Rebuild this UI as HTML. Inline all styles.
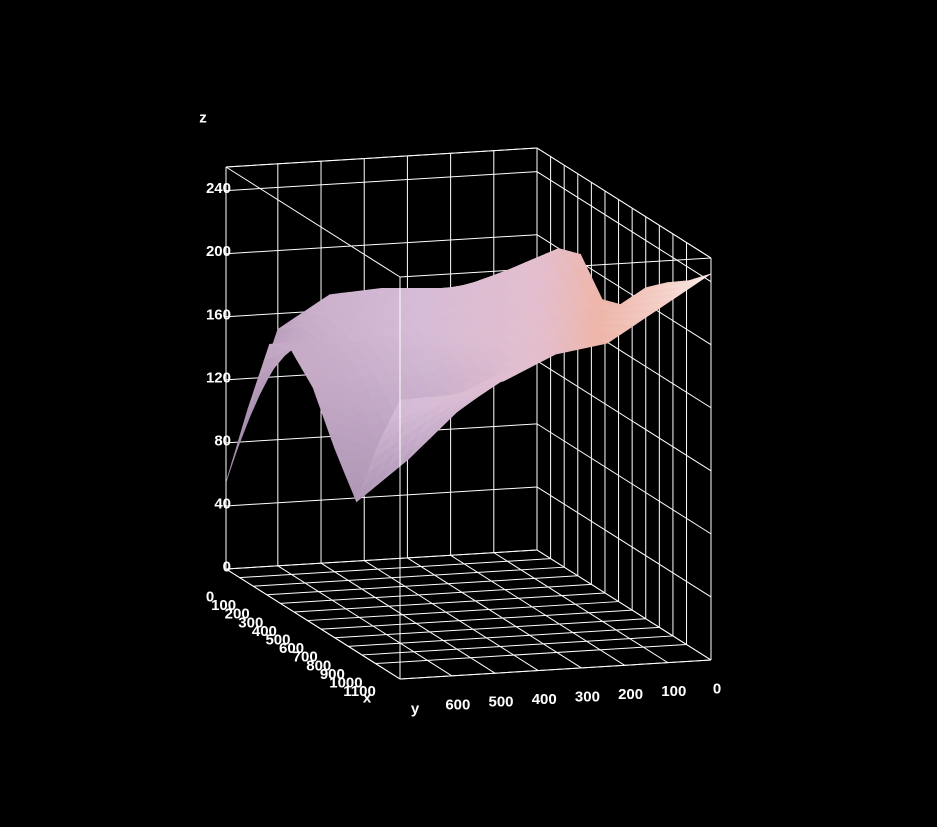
<!DOCTYPE html>
<html><head><meta charset="utf-8"><style>
html,body{margin:0;padding:0;background:#000;width:937px;height:827px;overflow:hidden}
svg text{font-family:"Liberation Sans",sans-serif;font-size:15px;font-weight:bold;fill:#fff}
</style></head><body>
<svg id="chart" width="937" height="827" viewBox="0 0 937 827" xmlns="http://www.w3.org/2000/svg">
<rect width="937" height="827" fill="#000"/>
<g id="walls"></g>
<g id="surf"></g>
<g id="front"></g>
<g id="labels"></g>
</svg>
<script>
const xGrid=[0,160,320,480,640,800,960,1120,1280];
const yGrid=[0,120,240,360,480,600,720];
const zRows=[
 [165,200,205,185,190,210,222,232,245],
 [168,188,190,175,175,190,205,215,225],
 [170,178,175,168,165,175,190,200,205],
 [172,175,168,160,150,155,170,190,200],
 [170,170,165,155,140,130,150,175,185],
 [150,160,160,150,130,110,120,160,178],
 [55,110,160,165,150,120,95,140,177]
];
const xTicks=[0,100,200,300,400,500,600,700,800,900,1000,1100];
const yTicks=[0,100,200,300,400,500,600];
const zTicks=[0,40,80,120,160,200,240];
const XMAX=1280,YMAX=720,ZMAX=255;
const F=[400,679],L=[226,569],R=[711,660];
function P(x,y,z){
  const a=1-x/XMAX,b=1-y/YMAX;
  return [F[0]+a*(L[0]-F[0])+b*(R[0]-F[0]), F[1]+a*(L[1]-F[1])+b*(R[1]-F[1])-z*402/ZMAX];
}
const NS="http://www.w3.org/2000/svg";
function line(g,p,q,name){
  const l=document.createElementNS(NS,'line');
  l.setAttribute('x1',p[0]);l.setAttribute('y1',p[1]);l.setAttribute('x2',q[0]);l.setAttribute('y2',q[1]);
  l.setAttribute('stroke','#fff');l.setAttribute('stroke-width','1');
  
  
  g.appendChild(l);
}
const W=document.getElementById('walls');
xTicks.concat([XMAX]).forEach(x=>line(W,P(x,0,0),P(x,YMAX,0),'floor-gridline-x'));
yTicks.concat([YMAX]).forEach(y=>line(W,P(0,y,0),P(XMAX,y,0),'floor-gridline-y'));
yTicks.concat([YMAX]).forEach(y=>line(W,P(0,y,0),P(0,y,ZMAX),'left-wall-gridline-y'));
zTicks.concat([ZMAX]).forEach(z=>line(W,P(0,0,z),P(0,YMAX,z),'left-wall-gridline-z'));
xTicks.concat([XMAX]).forEach(x=>line(W,P(x,0,0),P(x,0,ZMAX),'back-wall-gridline-x'));
zTicks.concat([ZMAX]).forEach(z=>line(W,P(0,0,z),P(XMAX,0,z),'back-wall-gridline-z'));
line(W,P(0,YMAX,ZMAX),P(XMAX,YMAX,ZMAX),'box-top-edge');
line(W,P(XMAX,0,ZMAX),P(XMAX,YMAX,ZMAX),'box-top-edge');
line(W,P(XMAX,0,0),P(XMAX,YMAX,0),'box-bottom-edge');
line(W,P(0,YMAX,0),P(XMAX,YMAX,0),'box-bottom-edge');
line(W,P(XMAX,0,0),P(XMAX,0,ZMAX),'box-right-edge');
function zAt(i,j,u,v){
  const z00=zRows[j][i],z10=zRows[j][i+1],z01=zRows[j+1][i],z11=zRows[j+1][i+1];
  return (1-u)*(1-v)*z00+u*(1-v)*z10+(1-u)*v*z01+u*v*z11;
}
function mix(a,b,t){t=Math.max(0,Math.min(1,t));return a.map((c,k)=>Math.round(c+(b[k]-c)*t));}
const stops=[[250,[196,168,196]],[420,[214,188,214]],[540,[228,190,206]],[600,[238,182,170]],[660,[244,206,198]],[711,[250,236,234]]];
function color(px,z){
  let c=stops[0][1];
  for(let k=0;k<stops.length-1;k++){
    if(px>=stops[k][0]&&px<stops[k+1][0]){c=mix(stops[k][1],stops[k+1][1],(px-stops[k][0])/(stops[k+1][0]-stops[k][0]));}
  }
  if(px>=stops[stops.length-1][0]) c=stops[stops.length-1][1];
  const d=Math.max(0,Math.min(1,(165-z)/100));
  if(px<560) c=mix(c,[120,100,140],d*0.55);
  return 'rgb('+c.join(',')+')';
}
const S=document.getElementById('surf');
const N=4,quads=[];
for(let j=0;j<yGrid.length-1;j++)for(let i=0;i<xGrid.length-1;i++)for(let b=0;b<N;b++)for(let a=0;a<N;a++){
  const pts=[[a,b],[a+1,b],[a+1,b+1],[a,b+1]].map(([p,q])=>{
    const u=p/N,v=q/N;const x=xGrid[i]+u*(xGrid[i+1]-xGrid[i]),y=yGrid[j]+v*(yGrid[j+1]-yGrid[j]);
    return [x,y,zAt(i,j,u,v)];});
  const cx=pts.reduce((s,p)=>s+p[0],0)/4,cy=pts.reduce((s,p)=>s+p[1],0)/4,cz=pts.reduce((s,p)=>s+p[2],0)/4;
  const pc=P(cx,cy,cz);
  quads.push({pts,depth:cx/XMAX+cy/YMAX,col:color(pc[0],cz)});
}
quads.sort((p,q)=>p.depth-q.depth);
quads.forEach(q=>{
  const pg=document.createElementNS(NS,'polygon');
  pg.setAttribute('points',q.pts.map(p=>P(p[0],p[1],p[2]).map(v=>v.toFixed(1)).join(',')).join(' '));
  pg.setAttribute('fill',q.col);pg.setAttribute('stroke',q.col);pg.setAttribute('stroke-width','0.6');
  
  
  S.appendChild(pg);
});
const FR=document.getElementById('front');
line(FR,P(XMAX,YMAX,0),P(XMAX,YMAX,ZMAX),'box-front-edge');
line(FR,P(0,YMAX,0),P(0,YMAX,ZMAX),'box-left-edge');
line(FR,P(0,0,ZMAX),P(0,YMAX,ZMAX),'box-top-edge');
line(FR,P(0,0,ZMAX),P(XMAX,0,ZMAX),'box-top-edge');
const LB=document.getElementById('labels');
function text(x,y,s,anchor,name){
  const t=document.createElementNS(NS,'text');
  t.setAttribute('x',x);t.setAttribute('y',y);t.setAttribute('text-anchor',anchor);
  t.setAttribute('dominant-baseline','central');t.textContent=s;
  
  
  LB.appendChild(t);
}
zTicks.forEach(z=>{const p=P(0,YMAX,z);text(231,p[1]-2,String(z),'end','z-tick-label');});
xTicks.forEach(x=>{const p=P(x,YMAX,0);text(p[0]-16,p[1]+28,String(x),'middle','x-tick-label');});
yTicks.forEach(y=>{const p=P(XMAX,y,0);text(p[0]+6,p[1]+29,String(y),'middle','y-tick-label');});
text(203,118,'z','middle','z-axis-title');
text(367,698,'x','middle','x-axis-title');
text(415,709,'y','middle','y-axis-title');
</script>
</body></html>
